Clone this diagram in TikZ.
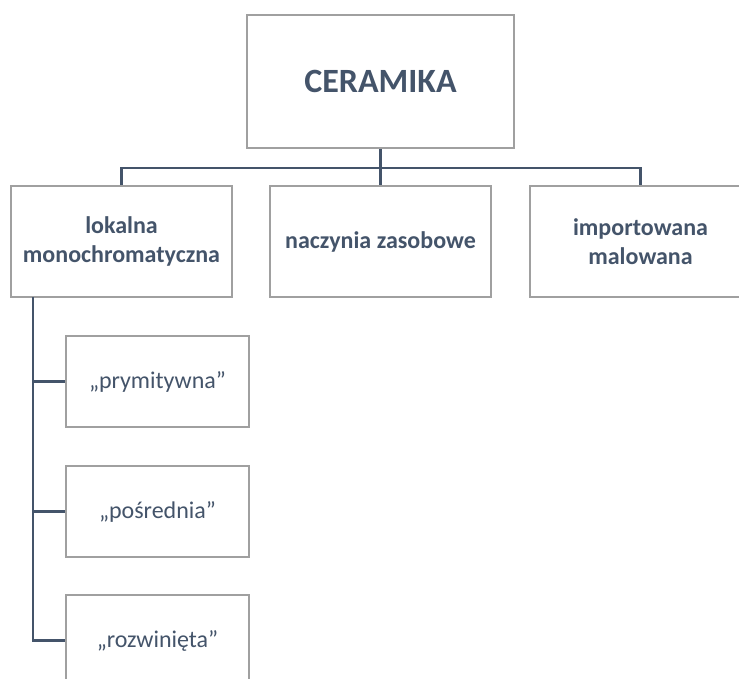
\documentclass[tikz,border=0pt]{standalone}
\usepackage{fontspec}
\setmainfont{Carlito}[Ligatures=NoCommon]
\definecolor{txt}{HTML}{44546A}
\definecolor{edge}{HTML}{A0A0A0}
\newcommand{\sq}{\symbol{34}}
\begin{document}
\begin{tikzpicture}[x=1pt,y=-1pt,
  box/.style={draw=edge,line width=1.4pt,fill=white,inner sep=0pt,text=txt,align=center},
  conn/.style={draw=txt,line width=2.7pt}]
\useasboundingbox (0,0) rectangle (739,679);
\begin{scope}
\clip (0,0) rectangle (739,679);
\coordinate (bus) at (380.5,168);
\coordinate (spine) at (33,297);
\draw[conn] (380.5,148) -- (380.5,186);
\draw[conn] (121.5,186) |- (bus) -| (640.5,186);
\node[box,minimum width=267pt,minimum height=133pt,font=\bfseries\fontsize{34}{40}\selectfont] (root) at (380.5,81.5) {CERAMIKA};
\node[box,minimum width=221pt,minimum height=111pt,font=\bfseries\fontsize{24}{29}\selectfont] (a) at (121.5,241.5) {lokalna\\monochromatyczna};
\node[box,minimum width=221pt,minimum height=111pt,font=\bfseries\fontsize{24}{29}\selectfont] (b) at (380.5,241.5) {naczynia zasobowe};
\node[box,minimum width=221pt,minimum height=111pt,font=\bfseries\fontsize{24}{29}\selectfont] (c) at (640.5,241.5) {importowana\\malowana};
\node[box,minimum width=183pt,minimum height=91pt,font=\fontsize{24}{29}\selectfont] (a1) at (157.5,381.5) {„prymitywna\sq};
\node[box,minimum width=183pt,minimum height=91pt,font=\fontsize{24}{29}\selectfont] (a2) at (157.5,511.5) {„pośrednia\sq};
\node[box,minimum width=183pt,minimum height=91pt,font=\fontsize{24}{29}\selectfont] (a3) at (157.5,640.5) {„rozwinięta\sq};
\draw[conn] (a.south -| spine) |- (a1.west);
\draw[conn] (spine) |- (a2.west);
\draw[conn] (spine) |- (a3.west);
\end{scope}
\end{tikzpicture}
\end{document}
